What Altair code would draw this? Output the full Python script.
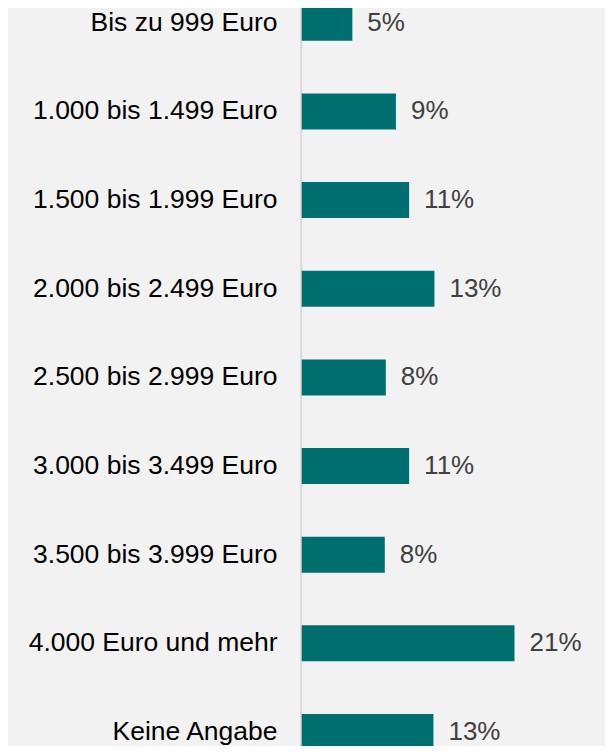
import altair as alt
import pandas as pd

categories = [
    "Bis zu 999 Euro",
    "1.000 bis 1.499 Euro",
    "1.500 bis 1.999 Euro",
    "2.000 bis 2.499 Euro",
    "2.500 bis 2.999 Euro",
    "3.000 bis 3.499 Euro",
    "3.500 bis 3.999 Euro",
    "4.000 Euro und mehr",
    "Keine Angabe",
]
values = [5.0, 9.3, 10.6, 13.1, 8.3, 10.6, 8.2, 21.0, 13.0]
labels = ["5%", "9%", "11%", "13%", "8%", "11%", "8%", "21%", "13%"]

df = pd.DataFrame({"cat": categories, "val": values, "label": labels})

y = alt.Y(
    "cat:N",
    sort=categories,
    title=None,
    scale=alt.Scale(range=[-3.2, 742], paddingInner=0.594, paddingOuter=0),
    axis=alt.Axis(
        ticks=False,
        domainColor="#d9d9d9",
        domainWidth=2,
        offset=1,
        labelPadding=23.7,
        labelFontSize=26.5,
        labelFont="Liberation Sans",
        labelColor="#000000",
        labelLimit=400,
        grid=False,
    ),
)
x = alt.X("val:Q", scale=alt.Scale(domain=[0, 29.9]), axis=None)

bars = alt.Chart(df).mark_bar(color="#006f6f").encode(x=x, y=y)
text = alt.Chart(df).mark_text(
    align="left", baseline="middle", dx=15, fontSize=26,
    font="Liberation Sans", color="#404040"
).encode(x=x, y=y, text="label:N")

chart = (bars + text).properties(
    width=303,
    height=738,
    background="#f2f2f2",
    padding={"left": 293.7, "top": 0, "right": 0, "bottom": 0},
    autosize=alt.AutoSizeParams(type="none"),
).configure_view(stroke=None)

chart.save("out.html", embed_options={"renderer": "svg", "actions": False})
